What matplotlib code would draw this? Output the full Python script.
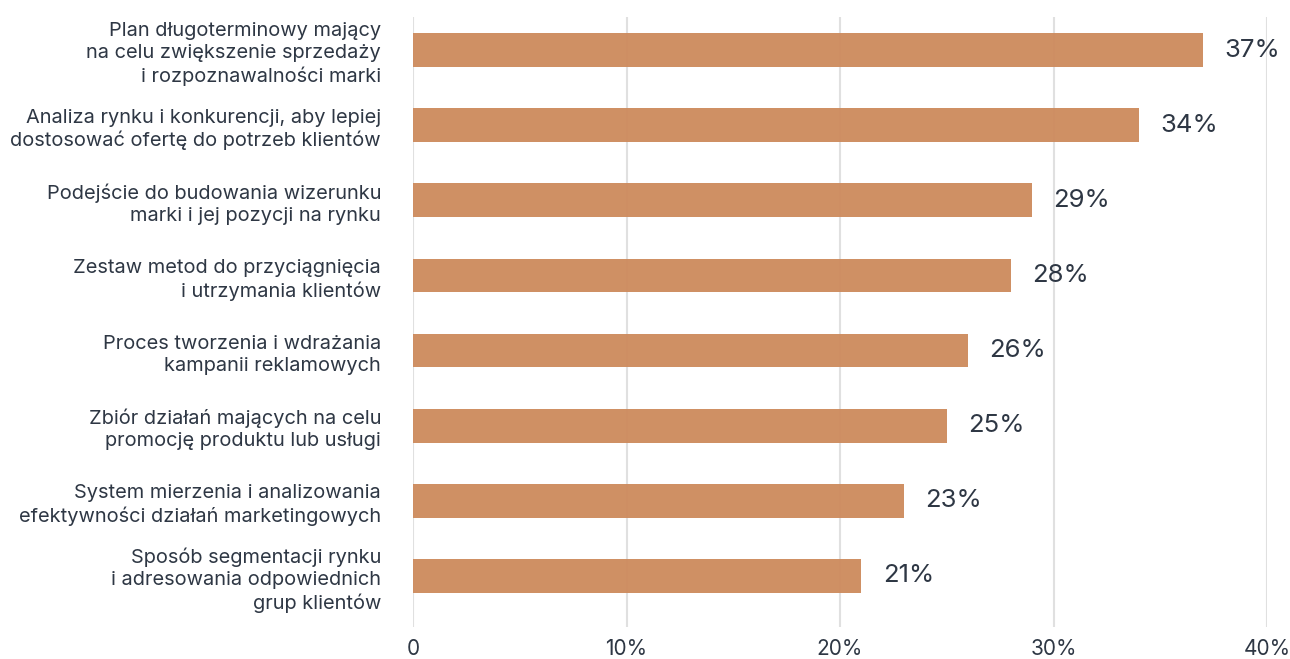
import matplotlib.pyplot as plt
from matplotlib.ticker import FuncFormatter

plt.rcParams['font.family'] = ['Inter', 'DejaVu Sans']

# survey answers, top to bottom
labels = [
    "Plan długoterminowy mający\nna celu zwiększenie sprzedaży\ni rozpoznawalności marki",
    "Analiza rynku i konkurencji, aby lepiej\ndostosować ofertę do potrzeb klientów",
    "Podejście do budowania wizerunku\nmarki i jej pozycji na rynku",
    "Zestaw metod do przyciągnięcia\ni utrzymania klientów",
    "Proces tworzenia i wdrażania\nkampanii reklamowych",
    "Zbiór działań mających na celu\npromocję produktu lub usługi",
    "System mierzenia i analizowania\nefektywności działań marketingowych",
    "Sposób segmentacji rynku\ni adresowania odpowiednich\ngrup klientów",
]
values = [37, 34, 29, 28, 26, 25, 23, 21]
xticks = [0, 10, 20, 30, 40]

txt = '#2e3744'
bar_col = '#cd8a5c'

fig = plt.figure(figsize=(12.9, 6.59), dpi=100)
ax = fig.add_axes([0.3202, 0.0486, 0.662, 0.9254])

pos = list(range(len(values)))
ax.barh(pos, values, height=0.45, color=bar_col, alpha=0.95, zorder=3)

for p, v in zip(pos, values):
    ax.text(v + 1.0, p, f"{v}%", va='center', ha='left', fontsize=18.5,
            color=txt, zorder=4)

ax.set_xlim(0, 40)
ax.set_ylim(7.68, -0.44)
ax.set_xticks(xticks)
ax.xaxis.set_major_formatter(FuncFormatter(lambda x, _: "0" if x == 0 else f"{x:.0f}%"))
ax.set_yticks(pos)
ax.set_yticklabels(labels, fontsize=14.4, color=txt, linespacing=1.28,
                   multialignment='right')
ax.tick_params(axis='y', length=0, pad=23)
ax.tick_params(axis='x', length=0, pad=9, labelsize=15, labelcolor=txt)

ax.grid(axis='x', color='#e0e0e0', linewidth=1.5, zorder=0)
ax.set_axisbelow(True)
for s in ax.spines.values():
    s.set_visible(False)

fig.savefig('out.png', dpi=100)
